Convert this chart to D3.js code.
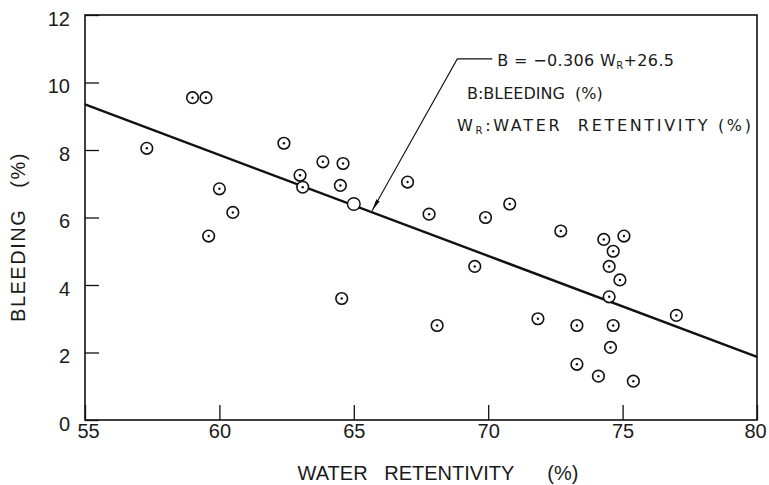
<!DOCTYPE html>
<html>
<head>
<meta charset="utf-8">
<script src="https://cdn.jsdelivr.net/npm/d3@7"></script>
<style>
  body { margin: 0; background: #fff; }
  text { font-family: "Liberation Sans", Arial, sans-serif; fill: #1a1a1a; }
  .note { font-family: "DejaVu Sans", sans-serif; }
</style>
</head>
<body>
<div id="chart"></div>
<script>
// measured values (water retentivity %, bleeding %)
var waterRet = [57.3, 59.0, 59.5, 60.0, 59.6, 60.5, 62.4, 63.0, 63.1, 63.85, 64.6, 64.5, 64.55,
                67.0, 67.8, 69.9, 70.8, 72.7, 69.5, 68.1, 71.85, 73.3, 74.3, 75.05, 74.65, 74.5,
                74.9, 74.5, 77.0, 74.65, 74.55, 73.3, 74.1, 75.4]
var bleeding = [8.05, 9.55, 9.55, 6.85, 5.45, 6.15, 8.2, 7.25, 6.9, 7.65, 7.6, 6.95, 3.6,
                7.05, 6.1, 6.0, 6.4, 5.6, 4.55, 2.8, 3.0, 2.8, 5.35, 5.45, 5.0, 4.55,
                4.15, 3.65, 3.1, 2.8, 2.15, 1.65, 1.3, 1.15]
// mean point (open circle)
var meanX = [65.0], meanY = [6.4]
// regression line as drawn
var fitX = [55, 80], fitY = [9.35, 1.87]
// leader + arrow for the equation
var arrowX = [70.15, 68.85, 65.68], arrowY = [10.7, 10.7, 6.2]

var xTicks = [55, 60, 65, 70, 75, 80]
var yTicks = [0, 2, 4, 6, 8, 10, 12]
var noteLines = ["B:BLEEDING  (%)", "W:WATER  RETENTIVITY (%)"]

var width = 769, height = 485
var margins = {left: 85, right: 12, top: 15, bottom: 65}

var svg = d3.select("#chart").append("svg")
    .attr("width", width)
    .attr("height", height)

var xScale = d3.scaleLinear().domain([55, 80]).range([margins.left, width - margins.right])
var yScale = d3.scaleLinear().domain([0, 12]).range([height - margins.bottom, margins.top])

// widen the letter spacing of a text so that it ends near endX
function fitTo(sel, endX){
    var node = sel.node()
    var box = node.getBBox()
    var n = node.textContent.length
    var extra = (endX - (box.x + box.width)) / (n - 1)
    if (extra > 0) sel.attr("letter-spacing", extra + "px")
}

// frame
svg.append("rect")
    .attr("x", xScale(55))
    .attr("y", yScale(12))
    .attr("width", xScale(80) - xScale(55))
    .attr("height", yScale(0) - yScale(12))
    .attr("fill", "none")
    .attr("stroke", "#111")
    .attr("stroke-width", 1.6)

// axes with inward ticks
var yAxis = svg.append("g")
    .attr("transform", "translate(" + xScale(55) + ",0)")
    .call(d3.axisLeft(yScale).tickValues(yTicks).tickSize(-14).tickPadding(15))
yAxis.select(".domain").remove()
yAxis.selectAll("line").attr("stroke", "#111").attr("stroke-width", 1.3)
yAxis.selectAll("text").attr("font-size", "20px").attr("dy", "0.5em")
    .style("font-family", "Liberation Sans, Arial, sans-serif")

var xAxis = svg.append("g")
    .attr("transform", "translate(0," + yScale(0) + ")")
    .call(d3.axisBottom(xScale).tickValues(xTicks).tickSize(-15).tickPadding(4))
xAxis.select(".domain").remove()
xAxis.selectAll("line").attr("stroke", "#111").attr("stroke-width", 1.3)
xAxis.selectAll("text").attr("font-size", "20px")
    .style("font-family", "Liberation Sans, Arial, sans-serif")
    .attr("dx", function(d){ return d === 55 ? "0.15em" : (d === 80 ? "-0.1em" : 0) })

// axis titles
svg.append("text")
    .attr("x", 438)
    .attr("y", 480)
    .attr("text-anchor", "middle")
    .attr("font-size", "20px")
    .style("white-space", "pre")
    .text("WATER   RETENTIVITY      (%)")

svg.append("text")
    .attr("transform", "translate(25,237) rotate(-90)")
    .attr("text-anchor", "middle")
    .attr("font-size", "20px")
    .attr("letter-spacing", "1.5px")
    .style("white-space", "pre")
    .text("BLEEDING   (%)")

// regression line
svg.append("line")
    .attr("x1", xScale(fitX[0]))
    .attr("y1", yScale(fitY[0]))
    .attr("x2", xScale(fitX[1]))
    .attr("y2", yScale(fitY[1]))
    .attr("stroke", "#111")
    .attr("stroke-width", 2.4)

// data points: circle with dot
var pts = waterRet.map(function(d, i){ return {x: d, y: bleeding[i]} })
svg.selectAll(".point")
    .data(pts)
    .enter()
    .append("circle")
    .attr("class", "point")
    .attr("cx", function(d){ return xScale(d.x) })
    .attr("cy", function(d){ return yScale(d.y) })
    .attr("r", 5.8)
    .attr("fill", "#fff")
    .attr("stroke", "#111")
    .attr("stroke-width", 1.6)
svg.selectAll(".dot")
    .data(pts)
    .enter()
    .append("circle")
    .attr("class", "dot")
    .attr("cx", function(d){ return xScale(d.x) })
    .attr("cy", function(d){ return yScale(d.y) })
    .attr("r", 1.2)
    .attr("fill", "#111")

// mean point
svg.append("circle")
    .attr("cx", xScale(meanX[0]))
    .attr("cy", yScale(meanY[0]))
    .attr("r", 6.3)
    .attr("fill", "#fff")
    .attr("stroke", "#111")
    .attr("stroke-width", 1.4)

// arrow
svg.append("defs").append("marker")
    .attr("id", "arr")
    .attr("viewBox", "0 0 12 4")
    .attr("refX", 12).attr("refY", 2)
    .attr("markerWidth", 12).attr("markerHeight", 4)
    .attr("markerUnits", "userSpaceOnUse")
    .attr("orient", "auto")
    .append("path").attr("d", "M0,0 L12,2 L0,4 Z").attr("fill", "#111")

var arrowPts = arrowX.map(function(d, i){ return [xScale(d), yScale(arrowY[i])] })
svg.append("path")
    .attr("d", d3.line()(arrowPts))
    .attr("fill", "none")
    .attr("stroke", "#111")
    .attr("stroke-width", 1.1)
    .attr("marker-end", "url(#arr)")

// equation and notes
var eq = svg.append("text")
    .attr("class", "note")
    .attr("x", xScale(arrowX[0]) + 5)
    .attr("y", 66)
    .attr("font-size", "16px")
    .style("white-space", "pre")
eq.append("tspan").text("B = \u22120.306 W")
eq.append("tspan").attr("font-size", "10px").attr("dy", 3).text("R")
eq.append("tspan").attr("dy", -3).text("+26.5")
fitTo(eq, 674)

var n1 = svg.append("text")
    .attr("class", "note")
    .attr("x", 467)
    .attr("y", 99)
    .attr("font-size", "16px")
    .style("white-space", "pre")
    .text(noteLines[0])

var n2 = svg.append("text")
    .attr("class", "note")
    .attr("x", 457)
    .attr("y", 131)
    .attr("font-size", "16px")
    .style("white-space", "pre")
n2.append("tspan").text("W")
n2.append("tspan").attr("font-size", "10px").attr("dy", 3).text("R")
n2.append("tspan").attr("dy", -3).text(noteLines[1].slice(1))
fitTo(n2, 751)
</script>
</body>
</html>
